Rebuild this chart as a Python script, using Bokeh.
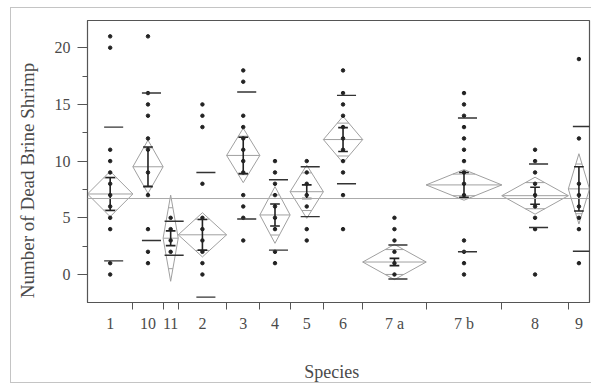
import numpy as np
from bokeh.plotting import figure
from bokeh.models import FixedTicker, Span, Range1d, InlineStyleSheet
from bokeh.embed import file_html
from bokeh.resources import INLINE

# ---- data ----
species = ["1", "10", "11", "2", "3", "4", "5", "6", "7 a", "7 b", "8", "9"]
group_n = [15, 10, 5, 16, 11, 10, 11, 13, 21, 25, 22, 7]
means = [7.1, 9.5, 3.2, 3.5, 10.5, 5.25, 7.3, 11.9, 1.1, 7.9, 6.95, 7.55]
std_devs = [5.9, 6.5, 1.5, 5.5, 5.6, 3.1, 2.2, 3.9, 1.5, 5.9, 2.8, 5.5]
std_errs = [1.45, 1.75, 0.65, 1.35, 1.6, 0.97, 0.6, 1.05, 0.32, 1.1, 0.75, 1.95]
ci_half = [2.0, 2.35, 3.8, 1.95, 2.4, 2.5, 2.35, 2.05, 1.55, 1.35, 1.63, 3.1]
grand_mean = 6.7
obs_1 = [0, 1, 4, 5, 6, 7, 8, 9, 10, 11, 20, 21]
obs_10 = [1, 2, 4, 7, 9, 11, 12, 14, 15, 16, 21]
obs_11 = [2, 3, 4, 5]
obs_2 = [0, 1, 2, 3, 4, 5, 8, 13, 14, 15]
obs_3 = [3, 5, 6, 7, 9, 10, 11, 12, 13, 14, 17, 18]
obs_4 = [1, 2, 4, 5, 6, 7, 8, 9, 10]
obs_5 = [3, 4, 6, 7, 8, 9, 10]
obs_6 = [4, 7, 9, 10, 11, 12, 13, 14, 15, 16, 18]
obs_7a = [0, 1, 2, 3, 4, 5]
obs_7b = [0, 1, 2, 3, 7, 8, 9, 10, 11, 12, 13, 14, 15, 16]
obs_8 = [0, 4, 5, 6, 7, 8, 9, 10, 11]
obs_9 = [1, 4, 5, 6, 7, 8, 12, 19]
observations = [obs_1, obs_10, obs_11, obs_2, obs_3, obs_4, obs_5, obs_6,
                obs_7a, obs_7b, obs_8, obs_9]
y_ticks = [0, 5, 10, 15, 20]
y_minor = [2.5, 7.5, 12.5, 17.5]
x_title = "Species"
y_title = "Number of Dead Brine Shrimp"

# ---- geometry derived from group sizes ----
edges = np.concatenate([[0], np.cumsum(group_n)]).astype(float)
lefts = edges[:-1]
rights = edges[1:]
centers = (lefts + rights) / 2
total = edges[-1]

FONT = "Liberation Serif"
TXT = "#4a4a4a"
NB = "\u00a0"

frame_css = InlineStyleSheet(css="""
:host::after { content: ''; position: absolute; left: 10px; top: 7px;
  width: 620px; height: 374px; border: 1px solid #c4c4c4; pointer-events: none; }
""")

p = figure(width=591, height=388, output_backend="svg", toolbar_location=None,
           x_range=Range1d(0, total), y_range=Range1d(-2.47, 22.4),
           min_border_left=87, min_border_right=2, min_border_top=20,
           min_border_bottom=86)
p.stylesheets = [frame_css]
p.background_fill_color = "white"
p.border_fill_color = "white"
p.outline_line_color = "#555555"
p.outline_line_width = 1.2
p.grid.visible = False

# axes
xa = p.xaxis[0]
xa.ticker = FixedTicker(ticks=list(centers), minor_ticks=list(edges[1:-1]))
xa.major_label_overrides = {float(c): s for c, s in zip(centers, species)}
xa.major_tick_line_color = None
xa.major_tick_out = 0
xa.major_tick_in = 0
xa.minor_tick_out = 7
xa.minor_tick_in = 0
xa.minor_tick_line_color = "#555555"
xa.axis_line_color = "#555555"
xa.major_label_standoff = 5
xa.major_label_text_font = FONT
xa.major_label_text_font_size = "16px"
xa.major_label_text_color = TXT
xa.axis_label = x_title + NB * 3
xa.axis_label_standoff = 27
xa.axis_label_text_font = FONT
xa.axis_label_text_font_size = "18px"
xa.axis_label_text_font_style = "normal"
xa.axis_label_text_color = TXT

ya = p.yaxis[0]
ya.ticker = FixedTicker(ticks=y_ticks, minor_ticks=y_minor)
ya.major_tick_out = 10
ya.major_tick_in = 0
ya.minor_tick_out = 5
ya.minor_tick_in = 0
ya.major_tick_line_color = "#555555"
ya.minor_tick_line_color = "#555555"
ya.axis_line_color = "#555555"
ya.major_label_standoff = 7
ya.major_label_text_font = FONT
ya.major_label_text_font_size = "16px"
ya.major_label_text_color = TXT
ya.axis_label = y_title + NB * 8
ya.axis_label_standoff = 14
ya.axis_label_text_font = FONT
ya.axis_label_text_font_size = "19px"
ya.axis_label_text_font_style = "normal"
ya.axis_label_text_color = TXT

# grand mean
p.add_layout(Span(location=grand_mean, dimension="width",
                  line_color="#aaaaaa", line_width=1))

m = np.array(means)
ci = np.array(ci_half)
se = np.array(std_errs)
sd = np.array(std_devs)

# diamonds
xs = [[l, c, r, c, l] for l, c, r in zip(lefts, centers, rights)]
ys = [[mm, mm + cc, mm, mm - cc, mm] for mm, cc in zip(m, ci)]
p.multi_line(xs=xs, ys=ys, line_color="#a0a0a0", line_width=1)
# mean lines in diamonds
p.segment(x0=lefts, y0=m, x1=rights, y1=m, line_color="#a0a0a0", line_width=1)
# overlap marks
hw = (rights - lefts) / 2 * (1 - 1 / np.sqrt(2))
for sgn in (1, -1):
    yy = m + sgn * ci / np.sqrt(2)
    p.segment(x0=centers - hw, y0=yy, x1=centers + hw, y1=yy,
              line_color="#a0a0a0", line_width=1)

# points
for c, vals in zip(centers, observations):
    p.scatter(x=[c] * len(vals), y=vals, size=3.5, marker="circle",
              fill_color="#222222", line_color="#222222")

# error bars (mean +/- SE)
p.segment(x0=centers, y0=m - se, x1=centers, y1=m + se, line_color="#222222", line_width=1.6)
cap = 1.6
for yy in (m - se, m + se):
    p.segment(x0=centers - cap, y0=yy, x1=centers + cap, y1=yy,
              line_color="#222222", line_width=1.6)

# std dev dashes
for yy in (m - sd, m + sd):
    p.segment(x0=centers - 2.0, y0=yy, x1=centers + 4.3, y1=yy,
              line_color="#333333", line_width=1.4)

open("out.html", "w").write(file_html(p, INLINE))
